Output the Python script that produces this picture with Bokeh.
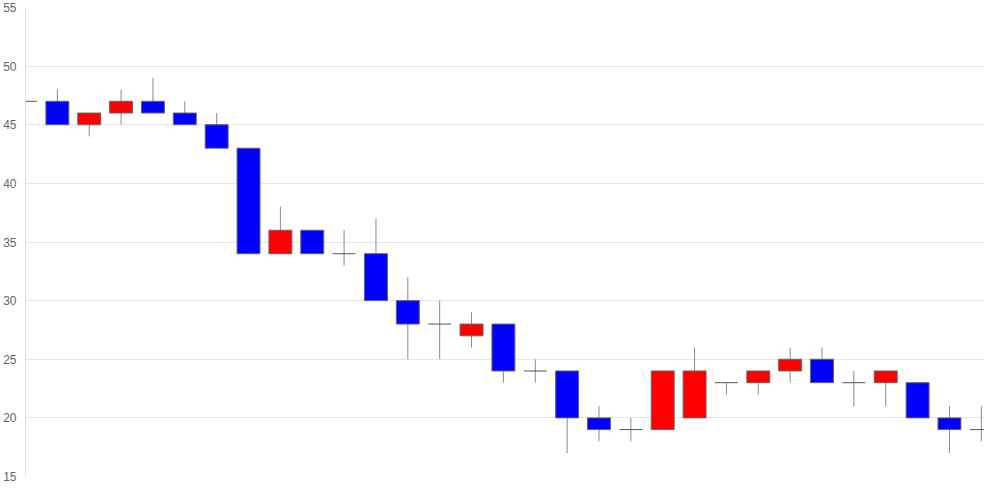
from bokeh.plotting import figure
from bokeh.models import ColumnDataSource, SingleIntervalTicker, Range1d
from bokeh.embed import file_html
from bokeh.resources import INLINE

opens  = [47,47,45,46,47,46,45,43,34,36,34,34,30,28,27,28,24,24,20,19,19,20,23,23,24,25,23,23,23,20,19]
highs  = [47,48,46,48,49,47,46,43,38,36,36,37,32,30,29,28,25,24,21,20,24,26,23,24,26,26,24,24,23,21,21]
lows   = [45,45,44,45,46,45,43,34,34,34,33,30,25,25,26,23,23,17,18,18,19,20,22,22,23,23,21,21,20,17,18]
closes = [47,45,46,47,46,45,43,34,36,34,34,30,28,28,28,24,24,20,19,19,24,24,23,24,25,23,23,24,20,19,19]
y_ticks = [15, 20, 25, 30, 35, 40, 45, 50, 55]

idx = list(range(len(opens)))
W = 0.72

up = [i for i in idx if closes[i] > opens[i]]
dn = [i for i in idx if closes[i] < opens[i]]
dj = [i for i in idx if closes[i] == opens[i]]

p = figure(width=984, height=484, output_backend="svg", toolbar_location=None,
           x_range=Range1d(0, 30.1), y_range=Range1d(15, 55),
           min_border_left=22, min_border_right=0, min_border_top=7, min_border_bottom=8)
p.outline_line_color = None
p.background_fill_color = "white"
p.border_fill_color = "white"

p.xaxis.visible = False
p.xgrid.visible = False
p.ygrid.grid_line_color = "#e6e6e6"
p.yaxis.ticker = SingleIntervalTicker(interval=5)
p.yaxis.axis_line_color = "#e0e0e0"
p.yaxis.major_tick_line_color = None
p.yaxis.minor_tick_line_color = None
p.yaxis.major_label_text_color = "#666666"
p.yaxis.major_label_text_font = "Liberation Sans"
p.yaxis.major_label_text_font_size = "12px"
p.yaxis.major_label_standoff = 3

# wicks
p.segment(x0=idx, y0=highs, x1=idx, y1=lows, line_color="#8a8a8a", line_width=1)

# bodies
src_up = ColumnDataSource(dict(x=up, top=[closes[i] for i in up], bottom=[opens[i] for i in up]))
src_dn = ColumnDataSource(dict(x=dn, top=[opens[i] for i in dn], bottom=[closes[i] for i in dn]))
p.vbar(x="x", top="top", bottom="bottom", width=W, source=src_up,
       fill_color="#ff0000", line_color="#666666", line_width=1)
p.vbar(x="x", top="top", bottom="bottom", width=W, source=src_dn,
       fill_color="#0000ff", line_color="#666666", line_width=1)

# doji
p.segment(x0=[i - W / 2 for i in dj], y0=[opens[i] for i in dj],
          x1=[i + W / 2 for i in dj], y1=[opens[i] for i in dj],
          line_color="#555555", line_width=1)

open("out.html", "w").write(file_html(p, INLINE))
